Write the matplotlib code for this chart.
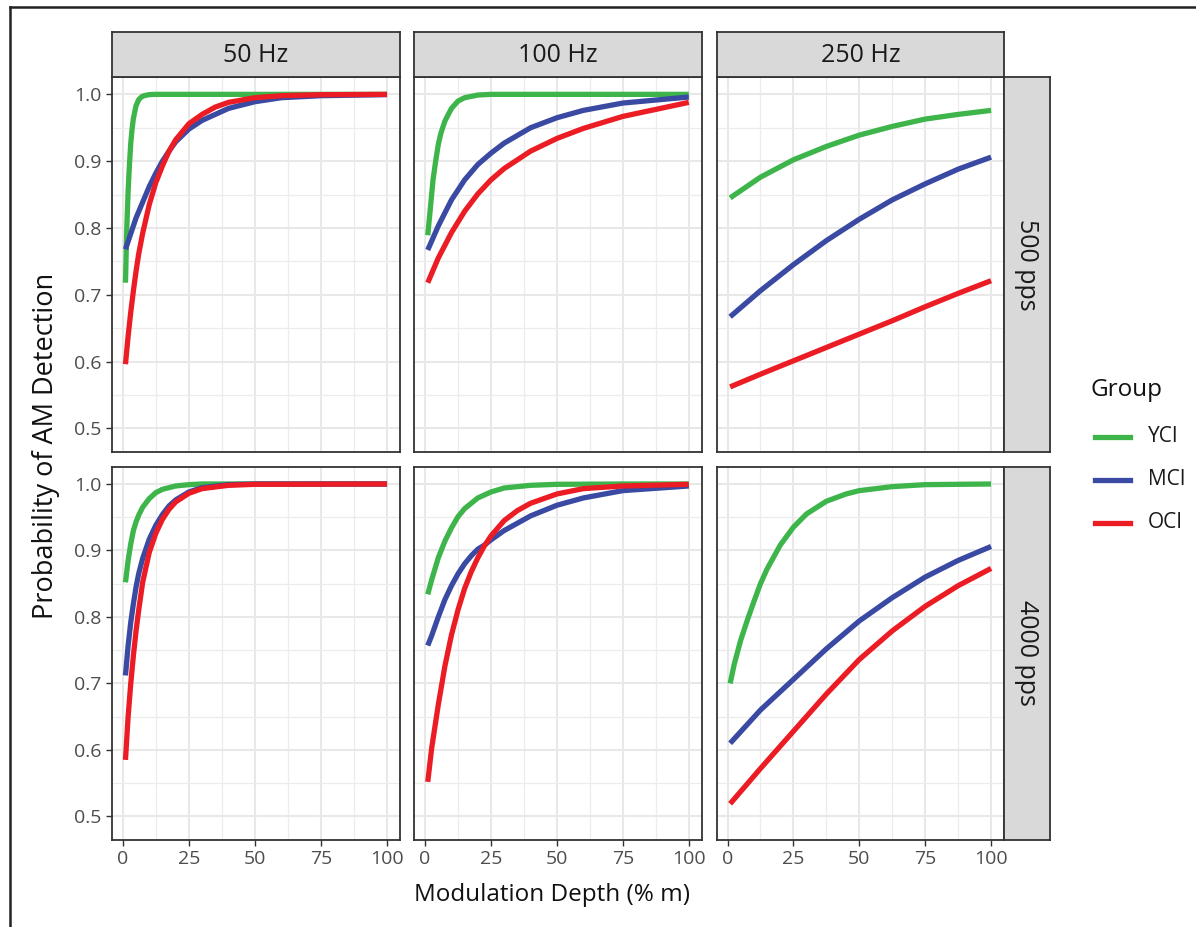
import matplotlib
matplotlib.use('Agg')
import matplotlib.pyplot as plt
from matplotlib.lines import Line2D

plt.rcParams['font.family'] = ['Open Sans', 'DejaVu Sans']

groups = ['YCI', 'MCI', 'OCI']
colors = {'YCI': '#3db54a', 'MCI': '#3a4aa3', 'OCI': '#ec1c24'}
freqs = ['50 Hz', '100 Hz', '250 Hz']
rates = ['500 pps', '4000 pps']
xticks = [0, 25, 50, 75, 100]
yticks = [0.5, 0.6, 0.7, 0.8, 0.9, 1.0]

# 500 pps, 50 Hz
yci_500_50_x = [1, 1.5, 2, 2.5, 3, 3.5, 4, 5, 6, 7, 8, 10, 12, 20, 50, 100]
yci_500_50_y = [0.718, 0.80, 0.855, 0.895, 0.927, 0.948, 0.964, 0.983, 0.992, 0.996, 0.998, 0.9996, 1.0, 1.0, 1.0, 1.0]
mci_500_50_x = [1, 5, 10, 12.5, 15, 17.5, 20, 25, 30, 40, 50, 60, 75, 100]
mci_500_50_y = [0.768, 0.815, 0.862, 0.882, 0.900, 0.915, 0.929, 0.948, 0.961, 0.979, 0.989, 0.995, 0.998, 0.9996]
oci_500_50_x = [1, 2, 3, 4, 5, 6, 7.5, 10, 12.5, 15, 17.5, 20, 25, 30, 35, 40, 50, 60, 75, 100]
oci_500_50_y = [0.596, 0.638, 0.674, 0.706, 0.735, 0.761, 0.792, 0.835, 0.868, 0.893, 0.915, 0.932, 0.956, 0.970, 0.981, 0.988, 0.995, 0.998, 0.9995, 1.0]

# 500 pps, 100 Hz
yci_500_100_x = [1, 2, 3, 4, 5, 6, 7.5, 10, 12.5, 15, 20, 25, 50, 100]
yci_500_100_y = [0.789, 0.83, 0.872, 0.90, 0.925, 0.942, 0.96, 0.979, 0.99, 0.995, 0.999, 1.0, 1.0, 1.0]
mci_500_100_x = [1, 5, 10, 15, 20, 25, 30, 40, 50, 60, 75, 100]
mci_500_100_y = [0.767, 0.803, 0.842, 0.872, 0.895, 0.912, 0.927, 0.95, 0.965, 0.976, 0.987, 0.996]
oci_500_100_x = [1, 5, 10, 15, 20, 25, 30, 40, 50, 60, 75, 100]
oci_500_100_y = [0.718, 0.755, 0.793, 0.825, 0.851, 0.872, 0.889, 0.915, 0.934, 0.949, 0.967, 0.988]

# 500 pps, 250 Hz
yci_500_250_x = [1, 12.5, 25, 37.5, 50, 62.5, 75, 87.5, 100]
yci_500_250_y = [0.845, 0.876, 0.902, 0.922, 0.939, 0.952, 0.963, 0.970, 0.976]
mci_500_250_x = [1, 12.5, 25, 37.5, 50, 62.5, 75, 87.5, 100]
mci_500_250_y = [0.667, 0.706, 0.745, 0.781, 0.813, 0.842, 0.866, 0.888, 0.906]
oci_500_250_x = [1, 12.5, 25, 37.5, 50, 62.5, 75, 87.5, 100]
oci_500_250_y = [0.562, 0.581, 0.601, 0.621, 0.641, 0.661, 0.682, 0.702, 0.721]

# 4000 pps, 50 Hz
yci_4000_50_x = [1, 2, 3, 4, 5, 6, 7.5, 10, 12.5, 15, 20, 25, 30, 50, 100]
yci_4000_50_y = [0.852, 0.885, 0.91, 0.93, 0.943, 0.953, 0.965, 0.978, 0.987, 0.992, 0.997, 0.999, 1.0, 1.0, 1.0]
mci_4000_50_x = [1, 2, 3, 4, 5, 6, 7.5, 10, 12.5, 15, 17.5, 20, 25, 30, 40, 50, 100]
mci_4000_50_y = [0.712, 0.757, 0.792, 0.82, 0.845, 0.865, 0.888, 0.917, 0.938, 0.954, 0.967, 0.976, 0.988, 0.9945, 0.999, 1.0, 1.0]
oci_4000_50_x = [1, 2, 3, 4, 5, 6, 7.5, 10, 12.5, 15, 17.5, 20, 25, 30, 40, 50, 100]
oci_4000_50_y = [0.585, 0.65, 0.70, 0.742, 0.779, 0.81, 0.852, 0.897, 0.926, 0.947, 0.962, 0.973, 0.986, 0.993, 0.998, 0.9995, 1.0]

# 4000 pps, 100 Hz
yci_4000_100_x = [1, 2.5, 5, 7.5, 10, 12.5, 15, 20, 25, 30, 40, 50, 75, 100]
yci_4000_100_y = [0.834, 0.856, 0.889, 0.914, 0.934, 0.951, 0.963, 0.979, 0.988, 0.994, 0.998, 0.9995, 1.0, 1.0]
mci_4000_100_x = [1, 2.5, 5, 7.5, 10, 12.5, 15, 17.5, 20, 22.5, 25, 30, 40, 50, 60, 75, 100]
mci_4000_100_y = [0.757, 0.772, 0.80, 0.826, 0.847, 0.865, 0.88, 0.892, 0.902, 0.908, 0.916, 0.93, 0.952, 0.968, 0.979, 0.99, 0.997]
oci_4000_100_x = [1, 2.5, 5, 7.5, 10, 12.5, 15, 17.5, 20, 22.5, 25, 30, 35, 40, 50, 60, 75, 100]
oci_4000_100_y = [0.552, 0.603, 0.668, 0.726, 0.773, 0.811, 0.843, 0.868, 0.889, 0.907, 0.922, 0.945, 0.960, 0.971, 0.985, 0.993, 0.997, 0.9995]

# 4000 pps, 250 Hz
yci_4000_250_x = [1, 2.5, 5, 7.5, 10, 12.5, 15, 20, 25, 30, 37.5, 45, 50, 62.5, 75, 100]
yci_4000_250_y = [0.70, 0.728, 0.765, 0.795, 0.823, 0.85, 0.872, 0.908, 0.935, 0.955, 0.974, 0.985, 0.99, 0.996, 0.999, 1.0]
mci_4000_250_x = [1, 12.5, 25, 37.5, 50, 62.5, 75, 87.5, 100]
mci_4000_250_y = [0.61, 0.66, 0.706, 0.752, 0.794, 0.829, 0.86, 0.885, 0.906]
oci_4000_250_x = [1, 12.5, 25, 37.5, 50, 62.5, 75, 87.5, 100]
oci_4000_250_y = [0.519, 0.572, 0.628, 0.684, 0.736, 0.779, 0.816, 0.847, 0.873]

curves = {
    ('500 pps', '50 Hz'): [(yci_500_50_x, yci_500_50_y), (mci_500_50_x, mci_500_50_y), (oci_500_50_x, oci_500_50_y)],
    ('500 pps', '100 Hz'): [(yci_500_100_x, yci_500_100_y), (mci_500_100_x, mci_500_100_y), (oci_500_100_x, oci_500_100_y)],
    ('500 pps', '250 Hz'): [(yci_500_250_x, yci_500_250_y), (mci_500_250_x, mci_500_250_y), (oci_500_250_x, oci_500_250_y)],
    ('4000 pps', '50 Hz'): [(yci_4000_50_x, yci_4000_50_y), (mci_4000_50_x, mci_4000_50_y), (oci_4000_50_x, oci_4000_50_y)],
    ('4000 pps', '100 Hz'): [(yci_4000_100_x, yci_4000_100_y), (mci_4000_100_x, mci_4000_100_y), (oci_4000_100_x, oci_4000_100_y)],
    ('4000 pps', '250 Hz'): [(yci_4000_250_x, yci_4000_250_y), (mci_4000_250_x, mci_4000_250_y), (oci_4000_250_x, oci_4000_250_y)],
}

W, H = 1196, 927
fig = plt.figure(figsize=(W/100, H/100), dpi=100)

def rect(l, t, r, b):
    return [l/W, 1-b/H, (r-l)/W, (b-t)/H]

cols = [(112, 400), (414.3, 701.7), (716.7, 1004)]
rows = [(77, 452), (466.7, 840)]
edge = '#333333'
tickc = '#4d4d4d'
LW = 3.8

for i, rate in enumerate(rates):
    for j, fq in enumerate(freqs):
        l, r = cols[j]; t, b = rows[i]
        ax = fig.add_axes(rect(l, t, r, b))
        ax.set_xlim(-4.1, 104.9); ax.set_ylim(0.4645, 1.026)
        ax.set_xticks(xticks); ax.set_yticks(yticks)
        ax.set_xticks([12.5, 37.5, 62.5, 87.5], minor=True)
        ax.set_yticks([0.55, 0.65, 0.75, 0.85, 0.95], minor=True)
        ax.grid(True, which='major', color='#e8e8e8', lw=1.5)
        ax.grid(True, which='minor', color='#ececec', lw=0.9)
        ax.set_axisbelow(True)
        for s in ax.spines.values():
            s.set_color(edge); s.set_linewidth(1.3)
        ax.tick_params(which='major', length=4.5, width=1, color=edge, labelcolor=tickc, labelsize=14, pad=3)
        ax.tick_params(which='minor', length=0)
        if i == 1:
            ax.set_xticklabels([str(v) for v in xticks])
        else:
            ax.tick_params(axis='x', which='major', length=0, labelbottom=False)
        if j == 0:
            ax.set_yticklabels([f'{v:.1f}' for v in yticks])
        else:
            ax.tick_params(axis='y', which='major', length=0, labelleft=False)
        for g, (xs, ys) in zip(groups, curves[(rate, fq)]):
            ax.plot(xs, ys, color=colors[g], lw=LW, solid_capstyle='butt', zorder=3)

# strips
for j, fq in enumerate(freqs):
    l, r = cols[j]
    sax = fig.add_axes(rect(l, 32, r, 77))
    sax.set_facecolor('#d9d9d9'); sax.set_xticks([]); sax.set_yticks([])
    for s in sax.spines.values():
        s.set_color(edge); s.set_linewidth(1.3)
    sax.text(0.5, 0.47, fq, ha='center', va='center', fontsize=18, color='#1a1a1a', transform=sax.transAxes)
for i, rate in enumerate(rates):
    t, b = rows[i]
    sax = fig.add_axes(rect(1004, t, 1050, b))
    sax.set_facecolor('#d9d9d9'); sax.set_xticks([]); sax.set_yticks([])
    for s in sax.spines.values():
        s.set_color(edge); s.set_linewidth(1.3)
    sax.text(0.5, 0.5, rate, ha='center', va='center', rotation=-90, fontsize=18, color='#1a1a1a', transform=sax.transAxes)

fig.text(46/W, 1-446/H, 'Probability of AM Detection', rotation=90, ha='center', va='center', fontsize=19.5, color='#111111')
fig.text(552/W, 1-895/H, 'Modulation Depth (% m)', ha='center', va='center', fontsize=17.5, color='#111111')

# legend
fig.text(1091/W, 1-390/H, 'Group', ha='left', va='center', fontsize=17.5, color='#111111')
for k, g in enumerate(groups):
    yk = 1 - (437 + 43*k)/H
    fig.add_artist(Line2D([1095/W, 1130/W], [yk, yk], color=colors[g], lw=LW))
    fig.text(1148/W, yk, g, ha='left', va='center', fontsize=15, color='#1a1a1a')

# outer frame (left and top edges)
fig.add_artist(Line2D([10/W, 10/W], [0, 1-7/H], color='#222222', lw=1.8))
fig.add_artist(Line2D([10/W, 1], [1-7/H, 1-7/H], color='#222222', lw=1.8))

fig.savefig('out.png', dpi=100)
